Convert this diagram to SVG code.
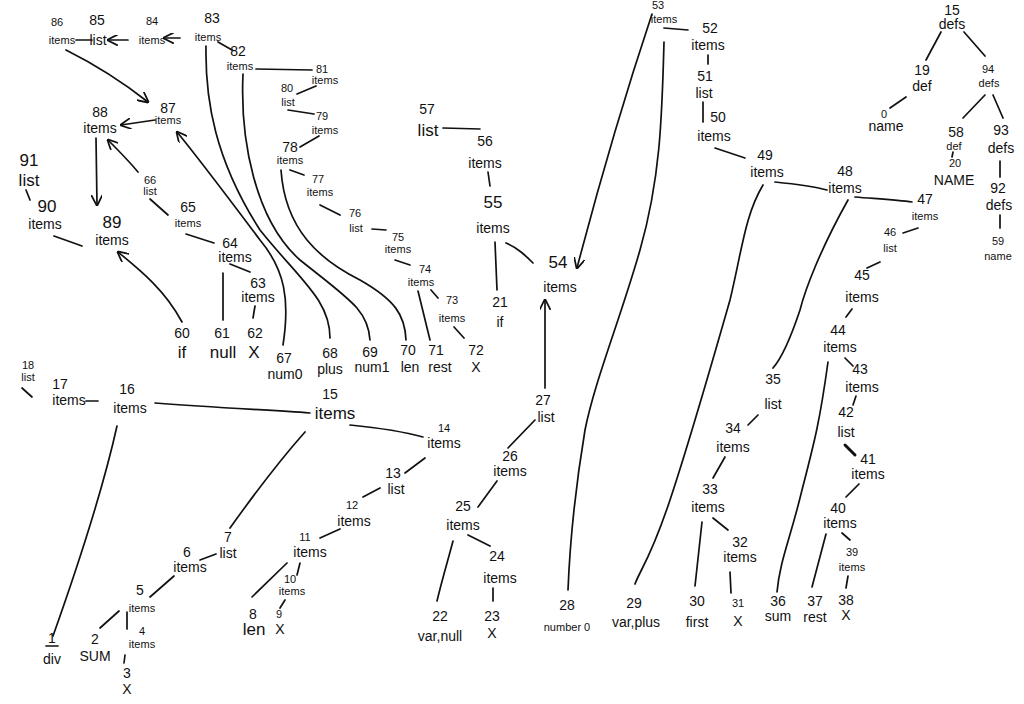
<svg xmlns="http://www.w3.org/2000/svg" width="1024" height="704" viewBox="0 0 1024 704">
<defs>
<style>
text{font-family:"Liberation Sans","DejaVu Sans",sans-serif;fill:#111;text-anchor:middle}
.n{font-size:14px}
.w{font-size:14px}
.s{font-size:11px}
.b{font-size:17px}
#edges path,#edges line{stroke:#111;stroke-width:1.7;fill:none;stroke-linecap:round}
</style>
<marker id="ah" viewBox="0 0 10 10" refX="9" refY="5" markerWidth="11" markerHeight="11" markerUnits="userSpaceOnUse" orient="auto">
<path d="M0,0 L10,5 L0,10" fill="none" stroke="#111" stroke-width="1.6"/>
</marker>
</defs>
<rect width="1024" height="704" fill="#fff"/>
<g id="edges">
<line x1="180" y1="38" x2="164" y2="38" marker-end="url(#ah)"/>
<line x1="128" y1="40" x2="108" y2="40" marker-end="url(#ah)"/>
<line x1="92" y1="40" x2="76" y2="40"/>
<path d="M66,50 C90,62 120,80 148,102" marker-end="url(#ah)"/>
<line x1="155" y1="120" x2="121" y2="125" marker-end="url(#ah)"/>
<line x1="96" y1="138" x2="97" y2="205" marker-end="url(#ah)"/>
<path d="M138,172 C128,160 118,150 108,140" marker-end="url(#ah)"/>
<line x1="150" y1="199" x2="168" y2="215"/>
<line x1="186" y1="234" x2="214" y2="243"/>
<path d="M182,322 C165,290 140,270 118,252" marker-end="url(#ah)"/>
<line x1="54" y1="236" x2="82" y2="246"/>
<line x1="26" y1="190" x2="30" y2="200"/>
<line x1="223" y1="273" x2="223" y2="320"/>
<line x1="230" y1="264" x2="250" y2="272"/>
<line x1="255" y1="306" x2="253" y2="318"/>
<path d="M283,345 C290,300 285,270 260,240 C230,200 200,160 177,132" marker-end="url(#ah)"/>
<path d="M206,46 C205,100 215,160 260,230 C300,280 330,300 330,338"/>
<path d="M243,74 C240,140 255,220 300,260 C350,300 368,310 370,340"/>
<path d="M281,170 C285,230 320,260 360,280 C395,300 405,315 406,340"/>
<line x1="218" y1="42" x2="232" y2="50"/>
<line x1="256" y1="69" x2="312" y2="70"/>
<line x1="316" y1="86" x2="297" y2="94"/>
<line x1="288" y1="110" x2="314" y2="114"/>
<line x1="319" y1="136" x2="300" y2="147"/>
<line x1="290" y1="170" x2="304" y2="175"/>
<line x1="320" y1="205" x2="340" y2="215"/>
<line x1="372" y1="229" x2="386" y2="230"/>
<line x1="395" y1="260" x2="410" y2="265"/>
<line x1="418" y1="291" x2="430" y2="340"/>
<line x1="431" y1="290" x2="438" y2="298"/>
<line x1="454" y1="327" x2="464" y2="338"/>
<line x1="443" y1="128" x2="480" y2="129"/>
<line x1="488" y1="172" x2="490" y2="186"/>
<line x1="495" y1="242" x2="497" y2="290"/>
<path d="M506,243 C518,248 526,256 533,263"/>
<path d="M652,14 C630,80 600,180 577,268" marker-end="url(#ah)"/>
<line x1="545" y1="388" x2="545" y2="300" marker-end="url(#ah)"/>
<line x1="664" y1="28" x2="688" y2="30"/>
<path d="M664,42 C662,120 660,180 640,250 C620,320 595,380 585,430 C575,490 570,540 568,590"/>
<path d="M763,185 C745,215 742,250 730,300 C710,370 690,440 670,500 C650,560 640,570 635,584"/>
<path d="M848,200 C820,250 805,290 800,310 C790,340 780,360 773,368"/>
<path d="M828,362 C820,420 815,440 802,490 C790,540 780,560 777,592"/>
<line x1="708" y1="55" x2="708" y2="64"/>
<line x1="703" y1="102" x2="703" y2="122"/>
<line x1="715" y1="148" x2="745" y2="158"/>
<path d="M775,182 C795,184 812,186 827,190"/>
<path d="M855,197 C880,199 898,200 912,202"/>
<line x1="918" y1="228" x2="903" y2="233"/>
<line x1="880" y1="262" x2="867" y2="268"/>
<line x1="852" y1="309" x2="846" y2="317"/>
<line x1="845" y1="358" x2="853" y2="366"/>
<line x1="856" y1="396" x2="853" y2="405"/>
<line x1="845" y1="445" x2="855" y2="455" style="stroke-width:3"/>
<line x1="859" y1="484" x2="846" y2="497"/>
<line x1="826" y1="534" x2="812" y2="587"/>
<line x1="842" y1="533" x2="850" y2="540"/>
<line x1="848" y1="576" x2="846" y2="588"/>
<line x1="758" y1="415" x2="748" y2="425"/>
<line x1="725" y1="457" x2="713" y2="478"/>
<line x1="702" y1="522" x2="695" y2="586"/>
<line x1="713" y1="518" x2="728" y2="530"/>
<line x1="730" y1="572" x2="731" y2="593"/>
<line x1="941" y1="32" x2="926" y2="60"/>
<line x1="964" y1="32" x2="985" y2="56"/>
<line x1="906" y1="97" x2="890" y2="108"/>
<line x1="985" y1="95" x2="963" y2="118"/>
<line x1="993" y1="95" x2="1003" y2="118"/>
<line x1="953" y1="152" x2="952" y2="157"/>
<line x1="1000" y1="161" x2="1000" y2="177"/>
<line x1="1000" y1="215" x2="1000" y2="228"/>
<line x1="22" y1="388" x2="32" y2="397"/>
<line x1="86" y1="401" x2="98" y2="401"/>
<path d="M155,403 C220,408 270,410 310,413"/>
<path d="M117,426 C105,480 80,560 53,636"/>
<path d="M305,432 C280,460 250,500 230,528"/>
<path d="M350,425 C380,428 405,432 423,437"/>
<line x1="425" y1="458" x2="405" y2="473"/>
<line x1="380" y1="488" x2="363" y2="497"/>
<line x1="340" y1="529" x2="320" y2="538"/>
<line x1="287" y1="563" x2="252" y2="597"/>
<line x1="300" y1="563" x2="297" y2="575"/>
<line x1="285" y1="600" x2="280" y2="608"/>
<line x1="216" y1="554" x2="200" y2="560"/>
<line x1="174" y1="576" x2="150" y2="597"/>
<line x1="119" y1="611" x2="100" y2="628"/>
<line x1="127" y1="612" x2="127" y2="629"/>
<line x1="125" y1="655" x2="124" y2="663"/>
<line x1="535" y1="420" x2="508" y2="448"/>
<line x1="497" y1="481" x2="478" y2="507"/>
<path d="M453,541 C448,560 442,580 437,601"/>
<line x1="468" y1="535" x2="490" y2="546"/>
<line x1="493" y1="588" x2="493" y2="601"/>
<line x1="46" y1="646" x2="58" y2="646"/>
</g>
<g id="n86"><text class="s" x="57" y="26">86</text><text class="s" x="62" y="44">items</text></g>
<g id="n85"><text class="n" x="97" y="25">85</text><text class="w" x="98" y="45">list</text></g>
<g id="n84"><text class="s" x="152" y="25">84</text><text class="s" x="152" y="44">items</text></g>
<g id="n83"><text class="n" x="212" y="23">83</text><text class="s" x="208" y="41">items</text></g>
<g id="n82"><text class="n" x="238" y="56">82</text><text class="s" x="240" y="70">items</text></g>
<g id="n81"><text class="s" x="322" y="73">81</text><text class="s" x="325" y="84">items</text></g>
<g id="n80"><text class="s" x="287" y="92">80</text><text class="s" x="288" y="106">list</text></g>
<g id="n79"><text class="s" x="322" y="120">79</text><text class="s" x="325" y="134">items</text></g>
<g id="n78"><text class="n" x="290" y="152">78</text><text class="s" x="290" y="164">items</text></g>
<g id="n77"><text class="s" x="318" y="183">77</text><text class="s" x="320" y="196">items</text></g>
<g id="n76"><text class="s" x="355" y="217">76</text><text class="s" x="356" y="232">list</text></g>
<g id="n75"><text class="s" x="398" y="241">75</text><text class="s" x="398" y="253">items</text></g>
<g id="n74"><text class="s" x="425" y="273">74</text><text class="s" x="421" y="286">items</text></g>
<g id="n73"><text class="s" x="452" y="304">73</text><text class="s" x="452" y="322">items</text></g>
<g id="n72"><text class="n" x="476" y="355">72</text><text class="w" x="476" y="372">X</text></g>
<g id="n71"><text class="n" x="436" y="355">71</text><text class="w" x="440" y="372">rest</text></g>
<g id="n70"><text class="n" x="408" y="355">70</text><text class="w" x="410" y="372">len</text></g>
<g id="n69"><text class="n" x="370" y="357">69</text><text class="w" x="372" y="372">num1</text></g>
<g id="n68"><text class="n" x="330" y="358">68</text><text class="w" x="330" y="374">plus</text></g>
<g id="n67"><text class="n" x="284" y="363">67</text><text class="w" x="285" y="379">num0</text></g>
<g id="n57"><text class="n" x="427" y="114">57</text><text class="b" x="428" y="136">list</text></g>
<g id="n56"><text class="n" x="485" y="146">56</text><text class="w" x="485" y="168">items</text></g>
<g id="n55"><text class="b" x="493" y="208">55</text><text class="w" x="493" y="233">items</text></g>
<g id="n54"><text class="b" x="558" y="268">54</text><text class="w" x="560" y="292">items</text></g>
<g id="n21"><text class="n" x="500" y="307">21</text><text class="w" x="500" y="327">if</text></g>
<g id="n53"><text class="s" x="658" y="9">53</text><text class="s" x="664" y="23">items</text></g>
<g id="n52"><text class="n" x="710" y="33">52</text><text class="w" x="708" y="50">items</text></g>
<g id="n51"><text class="n" x="705" y="81">51</text><text class="w" x="704" y="98">list</text></g>
<g id="n50"><text class="n" x="718" y="122">50</text><text class="w" x="714" y="141">items</text></g>
<g id="n49"><text class="n" x="765" y="160">49</text><text class="w" x="767" y="177">items</text></g>
<g id="n48"><text class="n" x="845" y="176">48</text><text class="w" x="845" y="193">items</text></g>
<g id="n47"><text class="n" x="925" y="204">47</text><text class="s" x="925" y="220">items</text></g>
<g id="n46"><text class="s" x="890" y="236">46</text><text class="s" x="890" y="252">list</text></g>
<g id="n45"><text class="n" x="862" y="280">45</text><text class="w" x="862" y="302">items</text></g>
<g id="n44"><text class="n" x="838" y="335">44</text><text class="w" x="840" y="352">items</text></g>
<g id="n43"><text class="n" x="860" y="374">43</text><text class="w" x="862" y="392">items</text></g>
<g id="n42"><text class="n" x="846" y="417">42</text><text class="w" x="846" y="437">list</text></g>
<g id="n41"><text class="n" x="868" y="464">41</text><text class="w" x="868" y="479">items</text></g>
<g id="n40"><text class="n" x="838" y="513">40</text><text class="w" x="840" y="528">items</text></g>
<g id="n39"><text class="s" x="852" y="556">39</text><text class="s" x="852" y="571">items</text></g>
<g id="n38"><text class="n" x="846" y="605">38</text><text class="w" x="846" y="620">X</text></g>
<g id="n37"><text class="n" x="815" y="606">37</text><text class="w" x="815" y="622">rest</text></g>
<g id="n36"><text class="n" x="778" y="606">36</text><text class="w" x="778" y="621">sum</text></g>
<g id="n35"><text class="n" x="773" y="384">35</text><text class="w" x="773" y="409">list</text></g>
<g id="n34"><text class="n" x="733" y="433">34</text><text class="w" x="733" y="452">items</text></g>
<g id="n33"><text class="n" x="710" y="494">33</text><text class="w" x="708" y="512">items</text></g>
<g id="n32"><text class="n" x="740" y="547">32</text><text class="w" x="740" y="562">items</text></g>
<g id="n31"><text class="s" x="738" y="607">31</text><text class="w" x="738" y="626">X</text></g>
<g id="n30"><text class="n" x="697" y="606">30</text><text class="w" x="697" y="627">first</text></g>
<g id="n29"><text class="n" x="634" y="608">29</text><text class="w" x="636" y="627">var,plus</text></g>
<g id="n28"><text class="n" x="567" y="610">28</text><text class="s" x="567" y="631">number 0</text></g>
<g id="n27"><text class="n" x="543" y="405">27</text><text class="w" x="546" y="422">list</text></g>
<g id="n26"><text class="n" x="510" y="461">26</text><text class="w" x="510" y="476">items</text></g>
<g id="n25"><text class="n" x="463" y="511">25</text><text class="w" x="463" y="530">items</text></g>
<g id="n24"><text class="n" x="497" y="561">24</text><text class="w" x="500" y="583">items</text></g>
<g id="n23"><text class="n" x="492" y="621">23</text><text class="w" x="492" y="638">X</text></g>
<g id="n22"><text class="n" x="440" y="621">22</text><text class="w" x="440" y="641">var,null</text></g>
<g id="n15-defs"><text class="n" x="952" y="15">15</text><text class="w" x="952" y="29">defs</text></g>
<g id="n19"><text class="n" x="922" y="75">19</text><text class="w" x="922" y="91">def</text></g>
<g id="n94"><text class="s" x="988" y="73">94</text><text class="s" x="989" y="87">defs</text></g>
<g id="n0"><text class="s" x="884" y="118">0</text><text class="w" x="886" y="131">name</text></g>
<g id="n58"><text class="n" x="956" y="137">58</text><text class="s" x="954" y="150">def</text></g>
<g id="n20"><text class="s" x="955" y="167">20</text><text class="w" x="954" y="185">NAME</text></g>
<g id="n93"><text class="n" x="1001" y="135">93</text><text class="w" x="1001" y="153">defs</text></g>
<g id="n92"><text class="n" x="998" y="193">92</text><text class="w" x="999" y="210">defs</text></g>
<g id="n59"><text class="s" x="998" y="245">59</text><text class="s" x="998" y="260">name</text></g>
<g id="n91"><text class="b" x="29" y="166">91</text><text class="b" x="29" y="186">list</text></g>
<g id="n90"><text class="b" x="47" y="212">90</text><text class="w" x="45" y="229">items</text></g>
<g id="n89"><text class="b" x="112" y="228">89</text><text class="w" x="112" y="245">items</text></g>
<g id="n88"><text class="n" x="100" y="117">88</text><text class="w" x="100" y="133">items</text></g>
<g id="n87"><text class="n" x="168" y="113">87</text><text class="s" x="168" y="124">items</text></g>
<g id="n66"><text class="s" x="150" y="184">66</text><text class="s" x="150" y="195">list</text></g>
<g id="n65"><text class="n" x="188" y="212">65</text><text class="s" x="188" y="227">items</text></g>
<g id="n64"><text class="n" x="230" y="248">64</text><text class="w" x="235" y="262">items</text></g>
<g id="n63"><text class="n" x="258" y="288">63</text><text class="w" x="258" y="302">items</text></g>
<g id="n62"><text class="n" x="255" y="338">62</text><text class="b" x="254" y="358">X</text></g>
<g id="n61"><text class="n" x="222" y="338">61</text><text class="b" x="223" y="358">null</text></g>
<g id="n60"><text class="n" x="182" y="338">60</text><text class="b" x="182" y="358">if</text></g>
<g id="n18"><text class="s" x="28" y="369">18</text><text class="s" x="28" y="381">list</text></g>
<g id="n17"><text class="n" x="60" y="389">17</text><text class="w" x="69" y="405">items</text></g>
<g id="n16"><text class="n" x="127" y="394">16</text><text class="w" x="130" y="413">items</text></g>
<g id="n15-items"><text class="n" x="330" y="399">15</text><text class="b" x="335" y="419">items</text></g>
<g id="n14"><text class="s" x="444" y="432">14</text><text class="w" x="444" y="448">items</text></g>
<g id="n13"><text class="n" x="393" y="478">13</text><text class="w" x="396" y="494">list</text></g>
<g id="n12"><text class="s" x="352" y="509">12</text><text class="w" x="354" y="526">items</text></g>
<g id="n11"><text class="s" x="305" y="541">11</text><text class="w" x="310" y="557">items</text></g>
<g id="n10"><text class="s" x="290" y="583">10</text><text class="s" x="292" y="595">items</text></g>
<g id="n9"><text class="s" x="279" y="618">9</text><text class="w" x="280" y="634">X</text></g>
<g id="n8"><text class="n" x="253" y="619">8</text><text class="b" x="254" y="635">len</text></g>
<g id="n7"><text class="n" x="228" y="542">7</text><text class="w" x="228" y="558">list</text></g>
<g id="n6"><text class="n" x="187" y="557">6</text><text class="w" x="190" y="572">items</text></g>
<g id="n5"><text class="n" x="140" y="595">5</text><text class="s" x="142" y="612">items</text></g>
<g id="n4"><text class="s" x="142" y="635">4</text><text class="s" x="142" y="648">items</text></g>
<g id="n3"><text class="n" x="127" y="678">3</text><text class="w" x="127" y="694">X</text></g>
<g id="n2"><text class="n" x="95" y="644">2</text><text class="w" x="95" y="661">SUM</text></g>
<g id="n1"><text class="n" x="52" y="643">1</text><text class="w" x="52" y="664">div</text></g>
</svg>
